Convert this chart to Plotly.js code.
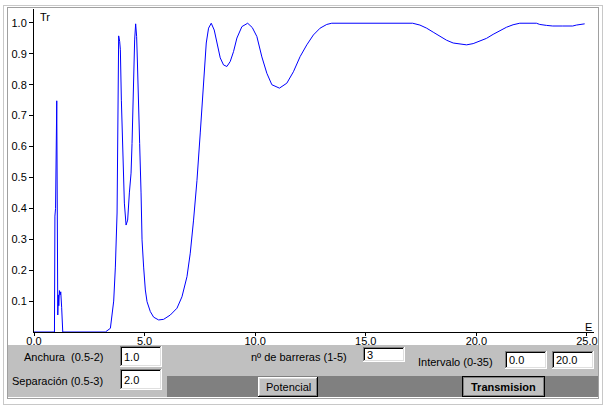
<!DOCTYPE html>
<html><head><meta charset="utf-8">
<script src="https://cdn.plot.ly/plotly-3.0.1.min.js"></script>
<style>html,body{margin:0;padding:0;background:#fff;}#chart{width:610px;height:408px;}</style>
</head><body><div id="chart"></div>
<script>
// ---- data ----
const energy = [
  0, 0.925, 0.946, 0.975, 1.029, 1.06, 1.075, 1.10, 1.12, 1.15, 1.18, 1.21, 1.25, 1.27, 1.30,
  3.228, 3.454, 3.603, 3.679, 3.756, 3.783, 3.828, 3.874, 3.905, 3.950, 4.009, 4.086, 4.163, 4.235,
  4.312, 4.388, 4.433, 4.479, 4.506, 4.551, 4.596, 4.641, 4.673, 4.731, 4.777, 4.840, 4.885, 4.957,
  5.034, 5.111, 5.260, 5.409, 5.634, 5.860, 6.163, 6.465, 6.691, 6.917, 7.065, 7.214, 7.368, 7.517,
  7.666, 7.788, 7.892, 8.014, 8.149, 8.271, 8.420, 8.569, 8.722, 8.871, 9.021, 9.174, 9.400, 9.661,
  9.87, 10.077, 10.303, 10.528, 10.754, 11.097, 11.431, 11.729, 12.032, 12.334, 12.632, 12.935, 13.237,
  13.463, 17.120, 17.449, 17.752, 18.050, 18.352, 18.654, 18.953, 19.255, 19.558, 19.856, 20.158,
  20.460, 20.759, 21.061, 21.364, 21.661, 21.964, 22.718, 22.867, 23.169, 23.454, 23.905, 24.357,
  24.524, 24.898
];
const transmission = [
  0, 0, 0.375, 0.40, 0.748, 0.40, 0.055, 0.12, 0.085, 0.134, 0.12, 0.13, 0.08, 0.04, 0,
  0, 0.012, 0.10, 0.21, 0.385, 0.75, 0.958, 0.94, 0.913, 0.75, 0.578, 0.417, 0.346, 0.362,
  0.45, 0.514, 0.61, 0.75, 0.816, 0.945, 0.997, 0.956, 0.88, 0.76, 0.61, 0.45, 0.298, 0.21,
  0.136, 0.098, 0.066, 0.048, 0.039, 0.041, 0.055, 0.077, 0.114, 0.179, 0.255, 0.362, 0.49, 0.644,
  0.816, 0.935, 0.983, 0.999, 0.977, 0.935, 0.887, 0.864, 0.859, 0.875, 0.907, 0.951, 0.988, 0.999,
  0.985, 0.956, 0.89, 0.837, 0.80, 0.789, 0.805, 0.842, 0.891, 0.929, 0.961, 0.983, 0.995,
  0.999, 0.999, 0.993, 0.983, 0.97, 0.956, 0.944, 0.935, 0.931, 0.929, 0.933, 0.941,
  0.95, 0.963, 0.975, 0.986, 0.994, 0.999, 0.999, 0.995, 0.992, 0.99, 0.99, 0.99,
  0.993, 0.997
];
const xTickValues = [0, 5, 10, 15, 20, 25];
const xTickLabels = ['0.0', '5.0', '10.0', '15.0', '20.0', '25.0'];
const yTickValues = [0.1, 0.2, 0.3, 0.4, 0.5, 0.6, 0.7, 0.8, 0.9, 1.0];
const yTickLabels = ['0.1', '0.2', '0.3', '0.4', '0.5', '0.6', '0.7', '0.8', '0.9', '1.0'];
const xAxisLabel = 'E';
const yAxisLabel = 'Tr';
const fieldLabels = ['Anchura  (0.5-2)', 'Separación (0.5-3)', 'nº de barreras (1-5)', 'Intervalo (0-35)'];
const fieldValues = ['1.0', '2.0', '3', '0.0', '20.0'];
const buttonLabels = ['Potencial', 'Transmision'];

// ---- geometry helpers (pixel -> paper) ----
const L = 34, T = 9, W = 560, H = 323;
const fx = p => (p - L) / W;
const fy = p => (T + H - p) / H;
const FONT = 'Arial, "Liberation Sans", sans-serif';
const shapes = [];
const annotations = [];

function rect(x0, y0, x1, y1, fill) {
  shapes.push({type: 'rect', xref: 'paper', yref: 'paper', layer: 'above',
    x0: fx(x0), x1: fx(x1), y0: fy(y1), y1: fy(y0), fillcolor: fill, line: {width: 0}});
}
function seg(xa, ya, xb, yb, color) {
  shapes.push({type: 'line', xref: 'paper', yref: 'paper', layer: 'above',
    x0: fx(xa), x1: fx(xb), y0: fy(ya), y1: fy(yb), line: {color: color, width: 1}});
}
function frame(x0, y0, x1, y1, tl, br) {
  seg(x0, y0 + 0.5, x1, y0 + 0.5, tl);
  seg(x0 + 0.5, y0, x0 + 0.5, y1, tl);
  seg(x0, y1 - 0.5, x1, y1 - 0.5, br);
  seg(x1 - 0.5, y0, x1 - 0.5, y1, br);
}
function text(str, x, y, anchor, opts) {
  annotations.push(Object.assign({xref: 'paper', yref: 'paper', x: fx(x), y: fy(y),
    text: str.replace(/  /g, '\u00a0 '), showarrow: false, xanchor: anchor, yanchor: 'middle',
    borderpad: 0, font: {family: FONT, size: 11, color: '#000'}}, opts || {}));
}
function textBox(x0, y0, x1, y1, str) {
  rect(x0, y0, x1, y1, '#ffffff');
  frame(x0, y0, x1, y1, '#808080', '#ffffff');
  frame(x0 + 1, y0 + 1, x1 - 1, y1 - 1, '#000000', '#dfdfdf');
  text(str, x0 + 3, (y0 + y1) / 2, 'left');
}

// window frame
frame(3, 5, 603, 405, '#c8c8c8', '#c8c8c8');
frame(7, 7, 599, 399, '#a0a0a0', '#a0a0a0');
// control panels
rect(8, 345, 598, 397, '#c0c0c0');
rect(167, 376, 598, 397, '#808080');
// fields
text(fieldLabels[0], 104, 357, 'right');
text(fieldLabels[1], 104, 381, 'right');
text(fieldLabels[2], 348, 357, 'right');
text(fieldLabels[3], 417, 362, 'left');
textBox(120, 346, 162, 367, fieldValues[0]);
textBox(120, 369, 162, 390, fieldValues[1]);
textBox(363, 347, 405, 362, fieldValues[2]);
textBox(505, 351, 547, 369, fieldValues[3]);
textBox(552, 351, 594, 369, fieldValues[4]);
// buttons
rect(258, 377, 318, 397, '#c0c0c0');
frame(258, 377, 318, 397, '#ffffff', '#000000');
frame(259, 378, 317, 396, '#dfdfdf', '#808080');
text(buttonLabels[0], 288, 387, 'center');
rect(462, 376, 545, 397, '#c0c0c0');
frame(462, 376, 545, 397, '#000000', '#000000');
frame(463, 377, 544, 396, '#808080', '#808080');
text(buttonLabels[1], 503.5, 386.5, 'center', {font: {family: FONT, size: 11, color: '#000', weight: 'bold'}});
// axis labels
text(yAxisLabel, 39, 17.5, 'left');
text(xAxisLabel, 588.5, 326.5, 'center');

const trace = {
  type: 'scatter', mode: 'lines', x: energy, y: transmission,
  line: {color: '#0000ff', width: 1, shape: 'linear'}, hoverinfo: 'skip'
};

const layout = {
  width: 610, height: 408,
  margin: {l: L, r: 610 - L - W, t: T, b: 408 - T - H, pad: 0},
  paper_bgcolor: '#ffffff', plot_bgcolor: '#ffffff',
  showlegend: false,
  xaxis: {range: [0, 25.32], tickmode: 'array', tickvals: xTickValues, ticktext: xTickLabels,
    ticks: 'outside', ticklen: 3, tickwidth: 1, tickcolor: '#000', showline: true, linecolor: '#000',
    linewidth: 1, showgrid: false, zeroline: false, layer: 'below traces', ticklabelstandoff: -4,
    tickfont: {family: FONT, size: 11, color: '#000'}, fixedrange: true},
  yaxis: {range: [0, 1.045], tickmode: 'array', tickvals: yTickValues, ticktext: yTickLabels,
    ticks: 'outside', ticklen: 4, tickwidth: 1, tickcolor: '#000', showline: true, linecolor: '#000',
    linewidth: 1, showgrid: false, zeroline: false, layer: 'below traces',
    tickfont: {family: FONT, size: 11, color: '#000'}, fixedrange: true},
  shapes: shapes,
  annotations: annotations
};

Plotly.newPlot('chart', [trace], layout, {displayModeBar: false, staticPlot: true});
</script>
</body></html>
